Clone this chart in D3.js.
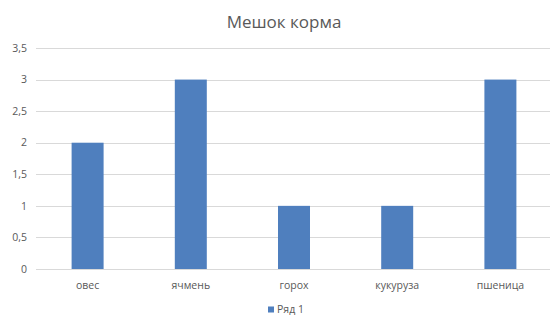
<html>
<head>
<meta charset="utf-8">
<style>
  body { margin: 0; background: #fff; }
  text { font-family: "Open Sans", "Liberation Sans", sans-serif; fill: #595959; }
</style>
</head>
<body>
<svg width="550" height="316"></svg>
<script src="https://d3js.org/d3.v7.min.js"></script>
<script>
var categories = ["овес", "ячмень", "горох", "кукуруза", "пшеница"]
var values = [2, 3, 1, 1, 3]
var yTicks = [0, 0.5, 1, 1.5, 2, 2.5, 3, 3.5]
var seriesName = "Ряд 1"
var title = "Мешок корма"

var svg = d3.select("svg")
var plotLeft = 36, plotRight = 552, plotTop = 48, plotBottom = 269

var x = d3.scaleBand().domain(categories).range([plotLeft, plotRight]).paddingInner(0.69).paddingOuter(0.345)
var y = d3.scaleLinear().domain([0, 3.5]).range([plotBottom, plotTop])
var fmt = function(d){ return String(d).replace(".", ",") }

// gridlines
svg.append("g").selectAll("line")
  .data(yTicks)
  .enter().append("line")
  .attr("x1", plotLeft).attr("x2", 550)
  .attr("y1", function(d){ return Math.round(y(d)) + 0.5 })
  .attr("y2", function(d){ return Math.round(y(d)) + 0.5 })
  .style("stroke", "#d9d9d9")
  .style("stroke-width", 1)

// y labels
svg.append("g").selectAll("text")
  .data(yTicks)
  .enter().append("text")
  .attr("x", 27)
  .attr("y", function(d){ return y(d) })
  .attr("dy", "0.35em")
  .attr("text-anchor", "end")
  .style("font-size", "10.5px")
  .text(fmt)

// bars
svg.append("g").selectAll("rect")
  .data(values)
  .enter().append("rect")
  .attr("x", function(d, i){ return x(categories[i]) })
  .attr("width", x.bandwidth())
  .attr("y", function(d){ return y(d) })
  .attr("height", function(d){ return y(0) - y(d) })
  .style("fill", "#4f7fbe")

// x labels
svg.append("g").selectAll("text")
  .data(categories)
  .enter().append("text")
  .attr("x", function(d){ return x(d) + x.bandwidth() / 2 })
  .attr("y", 285)
  .attr("dy", "0.35em")
  .attr("text-anchor", "middle")
  .style("font-size", "10.5px")
  .text(function(d){ return d })

// title
svg.append("text")
  .attr("x", 284).attr("y", 22).attr("dy", "0.35em")
  .attr("text-anchor", "middle")
  .style("font-size", "17px")
  .text(title)

// legend
var lg = svg.append("g")
lg.append("rect").attr("x", 268).attr("y", 306.5).attr("width", 6).attr("height", 6).style("fill", "#4f7fbe")
lg.append("text").attr("x", 277).attr("y", 309).attr("dy", "0.35em")
  .style("font-size", "10.5px").text(seriesName)
</script>
</body>
</html>
